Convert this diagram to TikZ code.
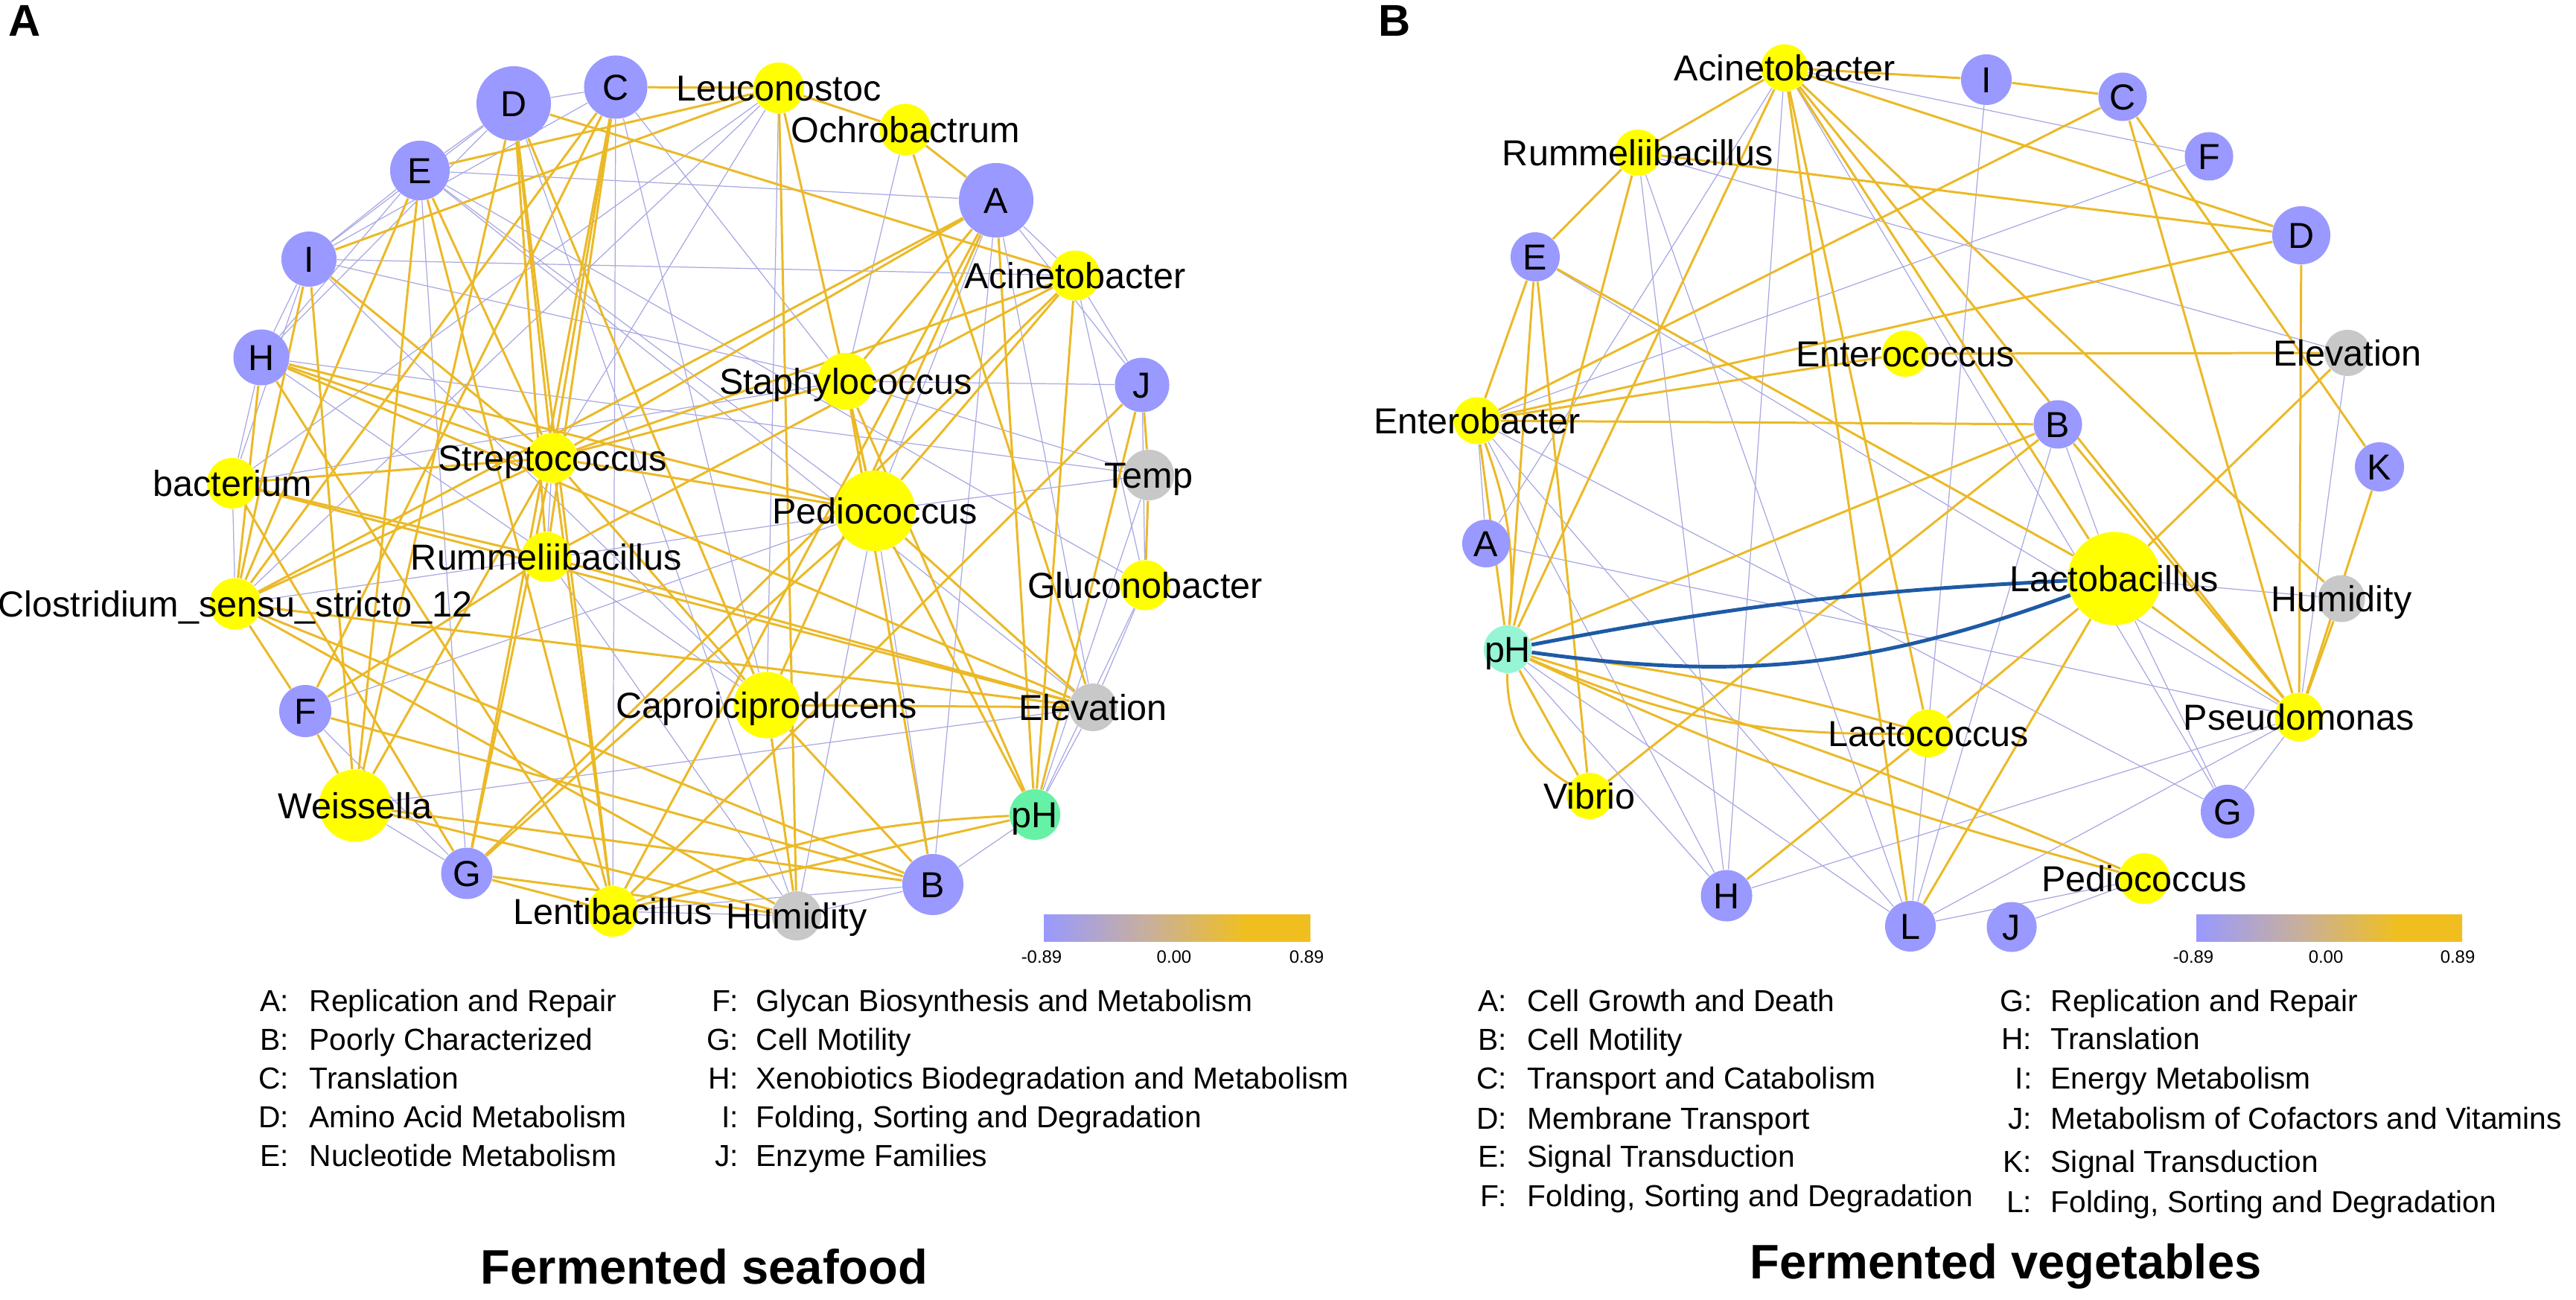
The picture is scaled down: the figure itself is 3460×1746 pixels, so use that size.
\documentclass[tikz,border=0pt]{standalone}
\usepackage{fontspec}
\setmainfont{Liberation Sans}
\usetikzlibrary{backgrounds}

\definecolor{funcblue}{RGB}{153,153,255}
\definecolor{genusyellow}{RGB}{255,255,0}
\definecolor{envgrey}{RGB}{200,200,200}
\definecolor{phgreenA}{RGB}{102,242,166}
\definecolor{phgreenB}{RGB}{150,245,212}
\definecolor{poscol}{RGB}{235,185,40}
\definecolor{negcol}{RGB}{168,168,226}
\definecolor{curvecol}{RGB}{30,90,165}

\newcommand\netfont{\fontsize{13.8pt}{16pt}\selectfont}
\newcommand\legfont{\fontsize{11.6pt}{14pt}\selectfont}
\newcommand\barfont{\fontsize{6.8pt}{8pt}\selectfont}
\newcommand\headfont{\fontsize{18.5pt}{22pt}\selectfont\bfseries}
\newcommand\panelfont{\fontsize{17pt}{20pt}\selectfont\bfseries}

\pgfdeclarehorizontalshading{corrbar}{100bp}{rgb(0bp)=(0.6,0.6,1); rgb(25bp)=(0.6,0.6,1); rgb(45bp)=(0.79,0.69,0.6); rgb(63bp)=(0.94,0.75,0.12); rgb(100bp)=(0.94,0.75,0.12)}

\tikzstyle{func} = [circle, fill=funcblue, inner sep=0pt]
\tikzstyle{genus} = [circle, fill=genusyellow, inner sep=0pt]
\tikzstyle{envir} = [circle, fill=envgrey, inner sep=0pt]
\tikzstyle{phnodeA} = [circle, fill=phgreenA, inner sep=0pt]
\tikzstyle{phnodeB} = [circle, fill=phgreenB, inner sep=0pt]
\tikzstyle{every label} = [font=\netfont, inner sep=0pt, text height=9.9pt, text depth=0pt]
\tikzstyle{posedge} = [draw=poscol, line width=0.85pt]
\tikzstyle{negedge} = [draw=negcol, line width=0.35pt]
\tikzstyle{phcurve} = [draw=curvecol, line width=1.4pt]
\tikzstyle{legkey} = [font=\legfont, inner sep=0pt, text height=8.3pt, text depth=0pt, anchor=east]
\tikzstyle{legtext} = [font=\legfont, inner sep=0pt, text height=8.3pt, text depth=0pt, anchor=west]
\tikzstyle{barlabel} = [font=\barfont, inner sep=0pt]
\tikzstyle{panelmark} = [font=\panelfont, inner sep=0pt]
\tikzstyle{heading} = [font=\headfont, inner sep=0pt]

\begin{document}
\begin{tikzpicture}[x=0.01cm, y=-0.01cm]
	\useasboundingbox (0,0) rectangle (3460,1746);

	% panel A: fermented seafood
	\node[panelmark] (panA) at (33,28) {A};
	\node[func, minimum size=1cm, label=center:D] (aD) at (690,139) {};
	\node[func, minimum size=0.85cm, label=center:C] (aC) at (827,117) {};
	\node[genus, minimum size=0.68cm, label=center:Leuconostoc] (aLeu) at (1046,118) {};
	\node[genus, minimum size=0.69cm, label=center:Ochrobactrum] (aOch) at (1216,174) {};
	\node[func, minimum size=1cm, label=center:A] (aA) at (1338,269) {};
	\node[genus, minimum size=0.67cm, label=center:Acinetobacter] (aAci) at (1444,370) {};
	\node[func, minimum size=0.8cm, label=center:E] (aE) at (564,229) {};
	\node[func, minimum size=0.74cm, label=center:I] (aI) at (415,348) {};
	\node[func, minimum size=0.75cm, label=center:H] (aH) at (351,480) {};
	\node[genus, minimum size=0.76cm, label=center:Staphylococcus] (aSta) at (1136,512) {};
	\node[func, minimum size=0.73cm, label=center:J] (aJ) at (1534,517) {};
	\node[genus, minimum size=0.67cm, label=center:Streptococcus] (aStr) at (742,615) {};
	\node[genus, minimum size=0.68cm, label=center:bacterium] (abac) at (312,649) {};
	\node[envir, minimum size=0.68cm, label=center:Temp] (aTemp) at (1543,638) {};
	\node[genus, minimum size=1.08cm, label=center:Pediococcus] (aPed) at (1175,686) {};
	\node[genus, minimum size=0.67cm, label=center:Rummeliibacillus] (aRum) at (734,748) {};
	\node[genus, minimum size=0.67cm, label=center:Gluconobacter] (aGlu) at (1538,786) {};
	\node[genus, minimum size=0.69cm, label=center:Clostridium\_sensu\_stricto\_12] (aClo) at (316,811) {};
	\node[genus, minimum size=0.89cm, label=center:Caproiciproducens] (aCap) at (1030,947) {};
	\node[envir, minimum size=0.64cm, label=center:Elevation] (aEle) at (1468,950) {};
	\node[func, minimum size=0.7cm, label=center:F] (aF) at (410,955) {};
	\node[genus, minimum size=0.97cm, label=center:Weissella] (aWei) at (477,1082) {};
	\node[phnodeA, minimum size=0.68cm, label=center:pH] (apH) at (1390,1094) {};
	\node[func, minimum size=0.69cm, label=center:G] (aG) at (627,1173) {};
	\node[genus, minimum size=0.68cm, label=center:Lentibacillus] (aLen) at (823,1224) {};
	\node[envir, minimum size=0.66cm, label=center:Humidity] (aHum) at (1070,1230) {};
	\node[func, minimum size=0.82cm, label=center:B] (aB) at (1253,1188) {};

	% panel B: fermented vegetables
	\node[panelmark] (panB) at (1873,28) {B};
	\node[genus, minimum size=0.63cm, label=center:Acinetobacter] (bAci) at (2397,91) {};
	\node[func, minimum size=0.68cm, label=center:I] (bI) at (2668,107) {};
	\node[func, minimum size=0.65cm, label=center:C] (bC) at (2851,130) {};
	\node[genus, minimum size=0.62cm, label=center:Rummeliibacillus] (bRum) at (2200,205) {};
	\node[func, minimum size=0.65cm, label=center:F] (bF) at (2967,210) {};
	\node[func, minimum size=0.78cm, label=center:D] (bD) at (3091,316) {};
	\node[func, minimum size=0.66cm, label=center:E] (bE) at (2062,345) {};
	\node[genus, minimum size=0.62cm, label=center:Enterococcus] (bEnt) at (2559,475) {};
	\node[envir, minimum size=0.62cm, label=center:Elevation] (bEle) at (3153,474) {};
	\node[genus, minimum size=0.63cm, label=center:Enterobacter] (bEnb) at (1984,565) {};
	\node[func, minimum size=0.65cm, label=center:B] (bB) at (2764,570) {};
	\node[func, minimum size=0.66cm, label=center:K] (bK) at (3196,627) {};
	\node[func, minimum size=0.64cm, label=center:A] (bA) at (1996,730) {};
	\node[genus, minimum size=1.25cm, label=center:Lactobacillus] (bLac) at (2840,777) {};
	\node[envir, minimum size=0.63cm, label=center:Humidity] (bHum) at (3145,804) {};
	\node[phnodeB, minimum size=0.64cm, label=center:pH] (bpH) at (2025,872) {};
	\node[genus, minimum size=0.64cm, label=center:Lactococcus] (bLco) at (2590,985) {};
	\node[genus, minimum size=0.65cm, label=center:Pseudomonas] (bPse) at (3088,963) {};
	\node[genus, minimum size=0.62cm, label=center:Vibrio] (bVib) at (2135,1069) {};
	\node[func, minimum size=0.72cm, label=center:G] (bG) at (2992,1090) {};
	\node[genus, minimum size=0.68cm, label=center:Pediococcus] (bPed) at (2880,1180) {};
	\node[func, minimum size=0.69cm, label=center:H] (bH) at (2319,1203) {};
	\node[func, minimum size=0.68cm, label=center:L] (bL) at (2566,1244) {};
	\node[func, minimum size=0.67cm, label=center:J] (bJ) at (2702,1245) {};

	\begin{scope}[on background layer]
	% panel A, negative correlations
	\draw[negedge] (aD) -- (aC);
	\draw[negedge] (aD) -- (aI);
	\draw[negedge] (aD) -- (aE);
	\draw[negedge] (aD) -- (aH);
	\draw[negedge] (aD) -- (aHum);
	\draw[negedge] (aC) -- (aI);
	\draw[negedge] (aC) -- (aCap);
	\draw[negedge] (aC) -- (aLen);
	\draw[negedge] (aC) -- (aSta);
	\draw[negedge] (aE) -- (aA);
	\draw[negedge] (aE) -- (aI);
	\draw[negedge] (aE) -- (aH);
	\draw[negedge] (aE) -- (aEle);
	\draw[negedge] (aE) -- (aPed);
	\draw[negedge] (aE) -- (aGlu);
	\draw[negedge] (aI) -- (aH);
	\draw[negedge] (aI) -- (aAci);
	\draw[negedge] (aI) -- (aSta);
	\draw[negedge] (aI) -- (abac);
	\draw[negedge] (aI) -- (aCap);
	\draw[negedge] (aH) -- (abac);
	\draw[negedge] (aH) -- (aTemp);
	\draw[negedge] (aH) -- (aCap);
	\draw[negedge] (abac) -- (aClo);
	\draw[negedge] (abac) -- (aLeu);
	\draw[negedge] (abac) -- (aSta);
	\draw[negedge] (aClo) -- (aLeu);
	\draw[negedge] (aClo) -- (aPed);
	\draw[negedge] (aF) -- (aG);
	\draw[negedge] (aF) -- (aPed);
	\draw[negedge] (aWei) -- (aEle);
	\draw[negedge] (aWei) -- (aG);
	\draw[negedge] (aG) -- (aE);
	\draw[negedge] (aLen) -- (aHum);
	\draw[negedge] (aLen) -- (aB);
	\draw[negedge] (aHum) -- (aB);
	\draw[negedge] (aHum) -- (aPed);
	\draw[negedge] (aB) -- (apH);
	\draw[negedge] (aB) -- (aA);
	\draw[negedge] (aB) -- (aPed);
	\draw[negedge] (apH) -- (aEle);
	\draw[negedge] (apH) -- (aGlu);
	\draw[negedge] (apH) -- (aTemp);
	\draw[negedge] (aEle) -- (aGlu);
	\draw[negedge] (aEle) -- (aA);
	\draw[negedge] (aGlu) -- (aAci);
	\draw[negedge] (aGlu) -- (aJ);
	\draw[negedge] (aTemp) -- (aPed);
	\draw[negedge] (aTemp) -- (aSta);
	\draw[negedge] (aJ) -- (aAci);
	\draw[negedge] (aJ) -- (aSta);
	\draw[negedge] (aJ) -- (aA);
	\draw[negedge] (aA) -- (aPed);
	\draw[negedge] (aA) -- (aAci);
	\draw[negedge] (aLeu) -- (aCap);
	\draw[negedge] (aLeu) -- (aStr);
	\draw[negedge] (aOch) -- (aSta);
	\draw[negedge] (aStr) -- (aRum);
	\draw[negedge] (aRum) -- (aHum);

	% panel A, positive correlations
	\draw[posedge] (aD) -- (aAci);
	\draw[posedge] (aD) -- (aStr);
	\draw[posedge] (aD) -- (aRum);
	\draw[posedge] (aD) -- (aCap);
	\draw[posedge] (aD) -- (aLen);
	\draw[posedge] (aD) -- (aWei);
	\draw[posedge] (aC) -- (aLeu);
	\draw[posedge] (aC) -- (aStr);
	\draw[posedge] (aC) -- (aClo);
	\draw[posedge] (aC) -- (aF);
	\draw[posedge] (aC) -- (aRum);
	\draw[posedge] (aC) -- (aG);
	\draw[posedge] (aE) -- (aLeu);
	\draw[posedge] (aE) -- (aStr);
	\draw[posedge] (aE) -- (aWei);
	\draw[posedge] (aE) -- (aLen);
	\draw[posedge] (aE) -- (aClo);
	\draw[posedge] (aI) -- (aLeu);
	\draw[posedge] (aI) -- (aStr);
	\draw[posedge] (aI) -- (aWei);
	\draw[posedge] (aI) -- (aClo);
	\draw[posedge] (aH) -- (aStr);
	\draw[posedge] (aH) -- (aEle);
	\draw[posedge] (aH) -- (aLen);
	\draw[posedge] (aH) -- (aClo);
	\draw[posedge] (aH) -- (aPed);
	\draw[posedge] (abac) -- (aStr);
	\draw[posedge] (abac) -- (aEle);
	\draw[posedge] (abac) -- (aRum);
	\draw[posedge] (abac) -- (aG);
	\draw[posedge] (aClo) -- (aStr);
	\draw[posedge] (aClo) -- (aEle);
	\draw[posedge] (aClo) -- (aF);
	\draw[posedge] (aClo) -- (aHum);
	\draw[posedge] (aClo) -- (aA);
	\draw[posedge] (aClo) -- (aB);
	\draw[posedge] (aF) -- (aRum);
	\draw[posedge] (aF) -- (aWei);
	\draw[posedge] (aF) -- (aB);
	\draw[posedge] (aWei) -- (aB);
	\draw[posedge] (aWei) -- (aHum);
	\draw[posedge] (aWei) -- (aStr);
	\draw[posedge] (aG) -- (aStr);
	\draw[posedge] (aG) -- (aAci);
	\draw[posedge] (aG) -- (aPed);
	\draw[posedge] (aG) -- (aLen);
	\draw[posedge] (aG) -- (aHum);
	\draw[posedge] (aLen) -- (aStr);
	\draw[posedge] (aLen) -- (aA);
	\draw[posedge] (aLen) -- (aJ);
	\draw[posedge] (aStr) -- (aAci);
	\draw[posedge] (aStr) -- (aA);
	\draw[posedge] (aStr) -- (aPed);
	\draw[posedge] (aStr) -- (aCap);
	\draw[posedge] (aStr) -- (aSta);
	\draw[posedge] (aRum) -- (aEle);
	\draw[posedge] (aRum) -- (aAci);
	\draw[posedge] (aLeu) -- (aOch);
	\draw[posedge] (aLeu) -- (aHum);
	\draw[posedge] (aLeu) -- (aPed);
	\draw[posedge] (aOch) -- (aA);
	\draw[posedge] (aOch) -- (aEle);
	\draw[posedge] (aA) -- (aSta);
	\draw[posedge] (aA) -- (aCap);
	\draw[posedge] (aA) -- (apH);
	\draw[posedge] (aAci) -- (apH);
	\draw[posedge] (aAci) -- (aPed);
	\draw[posedge] (aSta) -- (aPed);
	\draw[posedge] (aSta) -- (apH);
	\draw[posedge] (aSta) -- (aB);
	\draw[posedge] (aPed) -- (apH);
	\draw[posedge] (aPed) -- (aEle);
	\draw[posedge] (aCap) -- (aEle);
	\draw[posedge] (aCap) -- (aB);
	\draw[posedge] (aCap) -- (aHum);
	\draw[posedge] (aJ) -- (aTemp);
	\draw[posedge] (aTemp) -- (aGlu);
	\draw[posedge] (aJ) -- (apH);
	\draw[posedge] (apH) to[bend right=10] (aLen);
	\draw[posedge] (apH) -- (aLen);

	% panel B, negative correlations
	\draw[negedge] (bAci) -- (bF);
	\draw[negedge] (bAci) -- (bG);
	\draw[negedge] (bAci) -- (bH);
	\draw[negedge] (bAci) -- (bA);
	\draw[negedge] (bRum) -- (bEle);
	\draw[negedge] (bRum) -- (bH);
	\draw[negedge] (bRum) -- (bL);
	\draw[negedge] (bI) -- (bL);
	\draw[negedge] (bF) -- (bEnb);
	\draw[negedge] (bE) -- (bPse);
	\draw[negedge] (bEnb) -- (bA);
	\draw[negedge] (bEnb) -- (bG);
	\draw[negedge] (bEnb) -- (bL);
	\draw[negedge] (bEnb) -- (bH);
	\draw[negedge] (bA) -- (bPse);
	\draw[negedge] (bpH) -- (bH);
	\draw[negedge] (bpH) -- (bL);
	\draw[negedge] (bB) -- (bLac);
	\draw[negedge] (bB) -- (bL);
	\draw[negedge] (bLac) -- (bHum);
	\draw[negedge] (bLac) -- (bG);
	\draw[negedge] (bEle) -- (bPse);
	\draw[negedge] (bPse) -- (bH);
	\draw[negedge] (bPse) -- (bL);
	\draw[negedge] (bPse) -- (bG);
	\draw[negedge] (bPed) -- (bJ);
	\draw[negedge] (bPed) -- (bL);

	% panel B, positive correlations
	\draw[posedge] (bAci) -- (bRum);
	\draw[posedge] (bAci) -- (bI);
	\draw[posedge] (bAci) -- (bD);
	\draw[posedge] (bAci) -- (bHum);
	\draw[posedge] (bAci) -- (bPse);
	\draw[posedge] (bAci) -- (bLac);
	\draw[posedge] (bAci) -- (bLco);
	\draw[posedge] (bAci) -- (bpH);
	\draw[posedge] (bAci) -- (bL);
	\draw[posedge] (bRum) -- (bE);
	\draw[posedge] (bRum) -- (bD);
	\draw[posedge] (bRum) -- (bpH);
	\draw[posedge] (bI) -- (bC);
	\draw[posedge] (bC) -- (bEnb);
	\draw[posedge] (bC) -- (bPse);
	\draw[posedge] (bC) -- (bK);
	\draw[posedge] (bD) -- (bEnb);
	\draw[posedge] (bD) -- (bPse);
	\draw[posedge] (bE) -- (bEnb);
	\draw[posedge] (bE) -- (bpH);
	\draw[posedge] (bE) -- (bLac);
	\draw[posedge] (bE) -- (bVib);
	\draw[posedge] (bEnt) -- (bEnb);
	\draw[posedge] (bEnt) -- (bEle);
	\draw[posedge] (bEle) -- (bLac);
	\draw[posedge] (bEnb) -- (bB);
	\draw[posedge] (bEnb) -- (bpH);
	\draw[posedge] (bEnb) to[bend left=12] (bpH);
	\draw[posedge] (bB) -- (bpH);
	\draw[posedge] (bB) -- (bVib);
	\draw[posedge] (bB) -- (bPse);
	\draw[posedge] (bK) -- (bPse);
	\draw[posedge] (bHum) -- (bPse);
	\draw[posedge] (bLac) -- (bPse);
	\draw[posedge] (bLac) -- (bLco);
	\draw[posedge] (bLac) -- (bL);
	\draw[posedge] (bLco) -- (bH);
	\draw[posedge] (bpH) to[bend left=4] (bLco);
	\draw[posedge] (bpH) to[bend right=12] (bLco);
	\draw[posedge] (bpH) to[bend left=3] (bPed);
	\draw[posedge] (bpH) to[bend right=5] (bPed);
	\draw[posedge] (bpH) -- (bVib);
	\draw[posedge] (bpH) to[bend right=30] (bVib);
	\draw[phcurve] (bpH) to[bend left=4] (bLac);
	\draw[phcurve] (bpH) to[bend right=14] (bLac);
	\end{scope}

	% colour bars
	\shade[shading=corrbar] (1402,1228) rectangle (1760,1264);
	\node[barlabel] (barA1) at (1399,1285) {-0.89};
	\node[barlabel] (barA2) at (1577,1285) {0.00};
	\node[barlabel] (barA3) at (1755,1285) {0.89};
	\shade[shading=corrbar] (2950,1228) rectangle (3307,1264);
	\node[barlabel] (barB1) at (2946,1285) {-0.89};
	\node[barlabel] (barB2) at (3124,1285) {0.00};
	\node[barlabel] (barB3) at (3301,1285) {0.89};

	% legend of panel A
	\node[legkey] (ka1) at (389,1344) {A:};
	\node[legtext] (ta1) at (415,1344) {Replication and Repair};
	\node[legkey] (ka2) at (389,1396) {B:};
	\node[legtext] (ta2) at (415,1396) {Poorly Characterized};
	\node[legkey] (ka3) at (389,1448) {C:};
	\node[legtext] (ta3) at (415,1448) {Translation};
	\node[legkey] (ka4) at (389,1500) {D:};
	\node[legtext] (ta4) at (415,1500) {Amino Acid Metabolism};
	\node[legkey] (ka5) at (389,1552) {E:};
	\node[legtext] (ta5) at (415,1552) {Nucleotide Metabolism};
	\node[legkey] (ka6) at (993,1344) {F:};
	\node[legtext] (ta6) at (1015,1344) {Glycan Biosynthesis and Metabolism};
	\node[legkey] (ka7) at (993,1396) {G:};
	\node[legtext] (ta7) at (1015,1396) {Cell Motility};
	\node[legkey] (ka8) at (993,1448) {H:};
	\node[legtext] (ta8) at (1015,1448) {Xenobiotics Biodegradation and Metabolism};
	\node[legkey] (ka9) at (993,1500) {I:};
	\node[legtext] (ta9) at (1015,1500) {Folding, Sorting and Degradation};
	\node[legkey] (ka10) at (993,1552) {J:};
	\node[legtext] (ta10) at (1015,1552) {Enzyme Families};

	% legend of panel B
	\node[legkey] (kb1) at (2025,1344) {A:};
	\node[legtext] (tb1) at (2051,1344) {Cell Growth and Death};
	\node[legkey] (kb2) at (2025,1396) {B:};
	\node[legtext] (tb2) at (2051,1396) {Cell Motility};
	\node[legkey] (kb3) at (2025,1448) {C:};
	\node[legtext] (tb3) at (2051,1448) {Transport and Catabolism};
	\node[legkey] (kb4) at (2025,1502) {D:};
	\node[legtext] (tb4) at (2051,1502) {Membrane Transport};
	\node[legkey] (kb5) at (2025,1553) {E:};
	\node[legtext] (tb5) at (2051,1553) {Signal Transduction};
	\node[legkey] (kb6) at (2025,1606) {F:};
	\node[legtext] (tb6) at (2051,1606) {Folding, Sorting and Degradation};
	\node[legkey] (kb7) at (2730,1344) {G:};
	\node[legtext] (tb7) at (2754,1344) {Replication and Repair};
	\node[legkey] (kb8) at (2730,1395) {H:};
	\node[legtext] (tb8) at (2754,1395) {Translation};
	\node[legkey] (kb9) at (2730,1448) {I:};
	\node[legtext] (tb9) at (2754,1448) {Energy Metabolism};
	\node[legkey] (kb10) at (2730,1502) {J:};
	\node[legtext] (tb10) at (2754,1502) {Metabolism of Cofactors and Vitamins};
	\node[legkey] (kb11) at (2730,1560) {K:};
	\node[legtext] (tb11) at (2754,1560) {Signal Transduction};
	\node[legkey] (kb12) at (2730,1614) {L:};
	\node[legtext] (tb12) at (2754,1614) {Folding, Sorting and Degradation};

	% titles
	\node[heading] (titA) at (946,1701) {Fermented seafood};
	\node[heading] (titB) at (2694,1701) {Fermented vegetables};
\end{tikzpicture}
\end{document}
